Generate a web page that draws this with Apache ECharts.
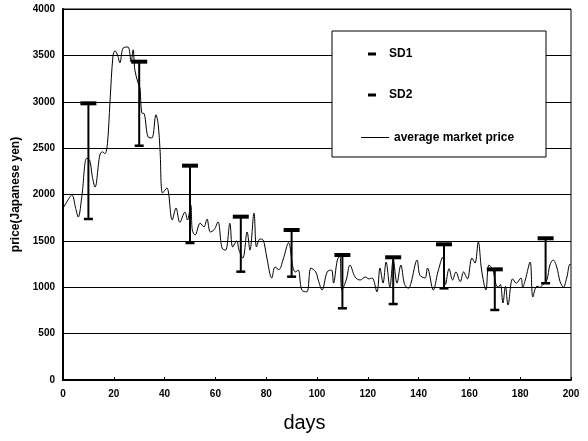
<!DOCTYPE html>
<html>
<head>
<meta charset="utf-8">
<script src="https://cdn.jsdelivr.net/npm/echarts@6/dist/echarts.min.js"></script>
<style>html,body{margin:0;padding:0;background:#fff;}#c{width:588px;height:441px;}</style>
</head>
<body>
<div id="c"></div>
<script>
// average market price (day, yen)
const days = [0,1.5,3.5,5,6,7.5,9.3,10.5,11.5,12.6,14.5,15.5,16.5,17.5,18.5,19.7,20.5,21.5,22.4,23.7,25.6,26.8,27.6,28.3,29.6,30.3,31,32,33.5,35,36.6,37.5,38.2,39.2,40.9,43,44.5,46,48,49,50.3,50.9,52,54,55.5,56.7,58,59.5,61,62.6,64,65.7,66.8,68.4,69.3,70.8,72.5,73.6,75.2,76.2,77.5,78.8,80.2,82.2,83.5,85,86.6,88.8,90.5,91.5,92.6,94,96,97.6,99.5,100.5,102,104,105.7,106.5,108,109,109.8,111.5,113,115,117,119,120.5,121.7,123.6,124.8,126,127.2,128.7,130,131.5,133,134.5,136,137,139.4,140.5,142.5,143.5,145.8,147.6,149.5,150.6,152,153.4,154.7,156.4,157.7,159.2,161,162.2,163.5,164.8,166.5,167.7,169.3,170.3,171.3,172.2,173.2,174.2,175.2,177,178.5,180.3,181,182,183.9,185,186.5,187.7,189,190.5,191.7,193,194.4,195.7,197,198.3,199.6,200];
const prices = [1850,1920,1995,1850,1757,2000,2390,2370,2200,2080,2425,2460,2440,2550,3000,3500,3550,3500,3420,3580,3590,3430,3560,3340,3200,3150,2880,2870,2620,2610,2860,2750,2480,2015,2070,1725,1855,1700,1810,1725,1887,1617,1563,1690,1650,1735,1596,1620,1705,1423,1400,1690,1434,1500,1400,1315,1596,1400,1800,1434,1520,1510,1326,1100,1218,1190,1294,1480,1218,1165,1186,970,950,1207,1165,1078,970,1165,1186,1045,1294,1340,970,1078,1240,1110,1078,1110,1090,1100,950,1207,1045,1272,1003,1294,1045,1240,1030,990,1045,1294,1130,1100,1207,970,1165,1326,1030,1200,1078,1165,1060,1165,1090,1315,1260,1490,1186,970,1240,1186,1045,1000,1030,830,1010,808,1090,1045,1100,1000,1078,1272,895,1010,1000,1030,1078,1240,1294,1218,1060,1000,1100,1250,1240];

// error bars
const sdDays = [10,30,50,70,90,110,130,150,170,190];
const sd1 = [2983,3432,2311,1761,1617,1348,1323,1463,1193,1528];
const sd2 = [1736,2526,1477,1168,1114,773,819,988,755,1043];

const yTicks = [0,500,1000,1500,2000,2500,3000,3500,4000];

const lineData = days.map((d,i)=>[d, prices[i]]);
const barData = sdDays.map((d,i)=>[d, sd2[i], sd1[i]]);

const chart = echarts.init(document.getElementById('c'), null, {renderer:'canvas'});
const bold = {fontFamily:'Liberation Sans', fontWeight:'bold', color:'#000'};
chart.setOption({
  animation:false,
  backgroundColor:'#fff',
  grid:{left:63, right:17, top:9, bottom:61, show:true, borderColor:'#000', borderWidth:1},
  xAxis:{
    type:'value', min:0, max:200, interval:20,
    name:'days', nameLocation:'middle', nameGap:33,
    nameTextStyle:{fontFamily:'Liberation Sans', fontSize:20, color:'#000', padding:[0,25,0,0]},
    axisLine:{show:true, lineStyle:{color:'#000', width:2}},
    axisTick:{show:true, inside:true, length:3, lineStyle:{color:'#000'}},
    axisLabel:Object.assign({fontSize:10, margin:9, formatter:v=>String(v)}, bold),
    splitLine:{show:false}
  },
  yAxis:{
    type:'value', min:yTicks[0], max:yTicks[yTicks.length-1], interval:500,
    name:'price(Japanese yen)', nameLocation:'middle', nameGap:36,
    nameTextStyle:Object.assign({fontSize:12}, bold),
    axisLine:{show:true, lineStyle:{color:'#000', width:2}},
    axisTick:{show:false},
    axisLabel:Object.assign({fontSize:10, margin:8, formatter:v=>String(v)}, bold),
    splitLine:{show:true, lineStyle:{color:'#000', width:1}}
  },
  graphic:[{type:'rect', z:3, shape:{x:332, y:31, width:214, height:126}, style:{fill:'#fff', stroke:'#000', lineWidth:1}}],
  legend:[
    {data:['SD1','SD2'], orient:'vertical', left:363, top:42, itemWidth:8, itemHeight:3, itemGap:27, icon:'rect', z:5,
     itemStyle:{color:'#000', opacity:1},
     textStyle:Object.assign({fontSize:12, lineHeight:14, padding:[0,0,0,8]}, bold)},
    {data:['average market price'], left:356, top:125.5, itemWidth:28, itemHeight:1, icon:'rect', z:5, itemGap:0,
     itemStyle:{color:'#000', opacity:1},
     textStyle:Object.assign({fontSize:12, lineHeight:14}, bold)}
  ],
  series:[
    {name:'average market price', type:'line', data:lineData, smooth:0.35, showSymbol:false, symbol:'none',
     lineStyle:{color:'#000', width:1}, itemStyle:{color:'#000'}, z:2},
    {name:'stems', type:'custom', data:barData, encode:{x:0, y:[1,2]}, z:3,
     renderItem:(params, api)=>{
       const x = api.value(0), lo = api.value(1), hi = api.value(2);
       const p1 = api.coord([x, hi]), p2 = api.coord([x, lo]);
       return {type:'line', shape:{x1:p1[0], y1:p1[1], x2:p2[0], y2:p2[1]}, style:{stroke:'#000', lineWidth:2}};
     }},
    {name:'SD1', type:'scatter', data:sdDays.map((d,i)=>[d, sd1[i]]), symbol:'rect', symbolSize:[16,4], itemStyle:{color:'#000', opacity:1}, z:4},
    {name:'SD2', type:'scatter', data:sdDays.map((d,i)=>[d, sd2[i]]), symbol:'rect', symbolSize:[9,2.5], itemStyle:{color:'#000', opacity:1}, z:4}
  ]
});
</script>
</body>
</html>
